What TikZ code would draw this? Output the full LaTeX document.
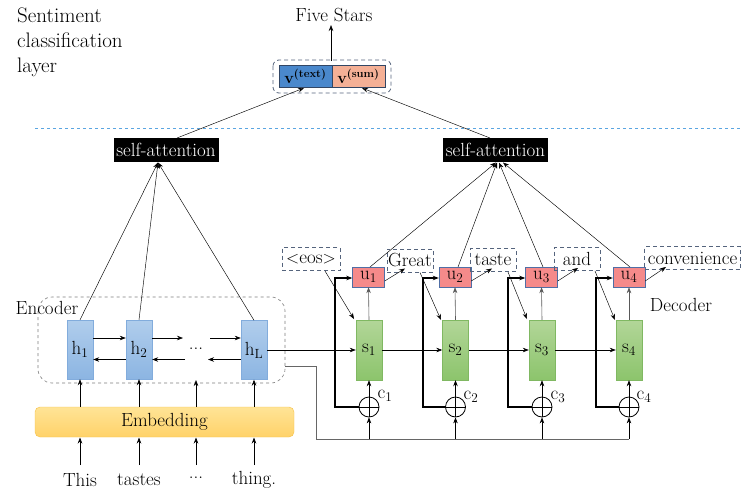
\documentclass[tikz,border=0pt]{standalone}
\usepackage{fontspec}
\usetikzlibrary{arrows.meta,calc}
\definecolor{hfillA}{RGB}{176,205,236}
\definecolor{hfillB}{RGB}{140,181,226}
\definecolor{hdraw}{RGB}{130,172,220}
\definecolor{sfillA}{RGB}{178,214,152}
\definecolor{sfillB}{RGB}{140,196,108}
\definecolor{sdraw}{RGB}{128,184,98}
\definecolor{ufill}{RGB}{245,138,138}
\definecolor{udraw}{RGB}{80,110,165}
\definecolor{efillA}{RGB}{255,228,150}
\definecolor{efillB}{RGB}{255,210,105}
\definecolor{edraw}{RGB}{245,192,70}
\definecolor{vtfill}{RGB}{74,136,204}
\definecolor{vsfill}{RGB}{244,176,150}
\definecolor{vdraw}{RGB}{50,70,100}
\definecolor{wdraw}{RGB}{85,100,125}
\definecolor{sepblue}{RGB}{90,165,225}
\definecolor{encgray}{RGB}{125,125,125}
\tikzset{
  fnt/.style={font=\fontsize{19}{22}\selectfont},
  hbox/.style={draw=hdraw,top color=hfillA,bottom color=hfillB,minimum width=26pt,minimum height=59pt,inner sep=0pt,fnt},
  sbox/.style={draw=sdraw,top color=sfillA,bottom color=sfillB,minimum width=26pt,minimum height=60pt,inner sep=0pt,fnt},
  ubox/.style={draw=udraw,fill=ufill,minimum width=32pt,minimum height=20pt,inner sep=0pt,fnt},
  wbox/.style={draw=wdraw,dash pattern=on 4pt off 3pt,line width=0.8pt,minimum height=23pt,inner sep=1pt,fnt},
  attbox/.style={fill=black,text=white,minimum width=105pt,minimum height=24pt,inner sep=0pt,fnt},
  vbox/.style={draw=vdraw,minimum width=53pt,minimum height=22pt,inner sep=0pt,font=\fontsize{16}{18}\selectfont\bfseries},
  plus/.style={draw,circle,minimum size=20pt,inner sep=0pt,line width=0.8pt},
  arr/.style={-{Stealth[length=6pt,width=4.5pt]},line width=0.6pt},
  thinarr/.style={-{Stealth[length=6pt,width=4.5pt]},line width=0.45pt},
  fb/.style={-{Stealth[length=6pt,width=4.5pt]},line width=1.3pt},
  lbl/.style={fnt,inner sep=0pt}
}
\begin{document}
\begin{tikzpicture}[x=1pt,y=-1pt]
\useasboundingbox (0,0) rectangle (742,491);

% sentiment layer
\node[anchor=north west,align=left,font=\fontsize{21}{25}\selectfont,inner sep=0pt] (sent) at (17,8) {Sentiment\\classification\\layer};
\node[lbl] (five) at (334,15) {Five Stars};
\node[vbox,fill=vtfill] (vt) at (305.5,76) {v\textsuperscript{(text)}};
\node[vbox,fill=vsfill] (vs) at (358.5,76) {v\textsuperscript{(sum)}};
\draw[draw=wdraw,dash pattern=on 4pt off 3pt,line width=0.8pt,rounded corners=6pt] (273,60) rectangle (391,93);
\coordinate (vtop) at (331,61);
\draw[arr] (vtop) -- (331,25);

\draw[sepblue,dashed,line width=0.8pt] (35,128) -- (742,128);

% attention
\node[attbox] (attL) at (166,150) {self-attention};
\node[attbox] (attR) at (495.5,150) {self-attention};
\draw[thinarr] (177,138) -- (304,88);
\draw[thinarr] (490,138) -- (362,88);

% encoder
\draw[encgray,dashed,line width=0.6pt,rounded corners=14pt] (38,297) rectangle (285,383);
\node[lbl] (enc) at (47,308) {Encoder};
\node[hbox] (h1) at (80,349.5) {h\textsubscript{1}};
\node[hbox] (h2) at (139,349.5) {h\textsubscript{2}};
\node[hbox] (hL) at (254,350) {h\textsubscript{L}};
\node[lbl] (dots) at (196,349) {...};
\coordinate (fy) at (0,338);
\coordinate (by) at (0,359.5);
\draw[arr] (h1.east|-fy) -- (h2.west|-fy);
\draw[arr] (h2.east|-fy) -- (183,338);
\draw[arr] (210,338) -- (hL.west|-fy);
\draw[arr] (h2.west|-by) -- (h1.east|-by);
\draw[arr] (185,359.5) -- (h2.east|-by);
\draw[arr] (hL.west|-by) -- (208,359.5);

\foreach \n in {h1,h2,hL}{\draw[thinarr] (\n.north) -- (158,162.5);}

% embedding
\node[draw=edraw,top color=efillA,bottom color=efillB,rounded corners=5pt,minimum width=259pt,minimum height=30pt,inner sep=0pt,fnt] (emb) at (164.5,422) {Embedding};
\node[lbl] (w1) at (80,480) {This};
\node[lbl] (w2) at (139,480) {tastes};
\node[lbl] (w3) at (196,478) {...};
\node[lbl] (w4) at (254,480) {thing.};
\foreach \n/\x in {w1/80,w2/139,w3/196,w4/254}{\draw[arr] (\x,465) -- (\x,437.5);}
\draw[arr] (80,406.5) -- (h1.south);
\draw[arr] (139,406.5) -- (h2.south);
\draw[arr] (196,406.5) -- (196,380);
\draw[arr] (254,406.5) -- (hL.south);

% decoder
\node[sbox] (s1) at (369,350) {s\textsubscript{1}};
\node[sbox] (s2) at (455.5,350) {s\textsubscript{2}};
\node[sbox] (s3) at (542,350) {s\textsubscript{3}};
\node[sbox] (s4) at (629,350) {s\textsubscript{4}};
\node[ubox] (u1) at (368.5,277) {u\textsubscript{1}};
\node[ubox] (u2) at (455,277) {u\textsubscript{2}};
\node[ubox] (u3) at (541.5,277) {u\textsubscript{3}};
\node[ubox] (u4) at (629,277) {u\textsubscript{4}};
\node[plus] (c1) at (369,407) {};
\node[plus] (c2) at (455.5,407) {};
\node[plus] (c3) at (542,407) {};
\node[plus] (c4) at (629,407) {};
\foreach \c in {c1,c2,c3,c4}{\draw[line width=0.8pt] (\c.north) -- (\c.south) (\c.west) -- (\c.east);}
\node[lbl] (lc1) at (385,396) {c\textsubscript{1}};
\node[lbl] (lc2) at (471,397) {c\textsubscript{2}};
\node[lbl] (lc3) at (558,397) {c\textsubscript{3}};
\node[lbl] (lc4) at (644,397) {c\textsubscript{4}};
\node[lbl] (dec) at (681,305) {Decoder};

\node[wbox,minimum width=58pt] (eos) at (311,259) {$<$eos$>$};
\node[wbox,minimum width=46pt] (great) at (410,260.5) {Great};
\node[wbox,minimum width=46pt] (taste) at (493,260) {taste};
\node[wbox,minimum width=46pt] (and) at (577,259) {and};
\node[wbox,minimum width=96pt] (conv) at (692.5,258) {convenience};

% horizontal flow
\draw[arr] (hL.east) -- (s1.west);
\draw[arr] (s1.east) -- (s2.west);
\draw[arr] (s2.east) -- (s3.west);
\draw[arr] (s3.east) -- (s4.west);

% context line
\coordinate (cb) at (316,439);
\draw[line width=0.6pt,gray!80!black] (285,366) -- (316,366) -- (cb) -- (629,439);
\foreach \c in {c1,c2,c3,c4}{\draw[arr] (\c|-cb) -- (\c.south);}
\foreach \i in {1,2,3,4}{
  \draw[arr] (c\i.north) -- (s\i.south);
  \draw[arr,gray!70!black] (s\i.north) -- (u\i.south);
}
% feedback
\foreach \i/\x in {1/335,2/423,3/508,4/596}{
  \draw[fb] (c\i.west) -- (\x,407) -- (\x,278) -- (u\i.west|-0,278);
}
% word inputs
\draw[thinarr] (325,271) -- (354,319);
\draw[thinarr] (420,272.5) -- (441,320);
\draw[thinarr] (508,272) -- (527,319);
\draw[thinarr] (595,271) -- (615,320);
% outputs to words
\draw[thinarr] (u1.east|-0,281) -- (405,268.5);
\draw[thinarr] (u2.east|-0,281) -- (492,268.5);
\draw[thinarr] (u3.east|-0,281) -- (578,268);
\draw[thinarr] (u4.east|-0,281) -- (666,267);
% attention from u
\draw[thinarr] (370,267) -- (496,162.5);
\draw[thinarr] (458,267) -- (497,162.5);
\draw[thinarr] (543,267) -- (499,162.5);
\draw[thinarr] (630,267) -- (503,162.5);
\end{tikzpicture}
\end{document}
